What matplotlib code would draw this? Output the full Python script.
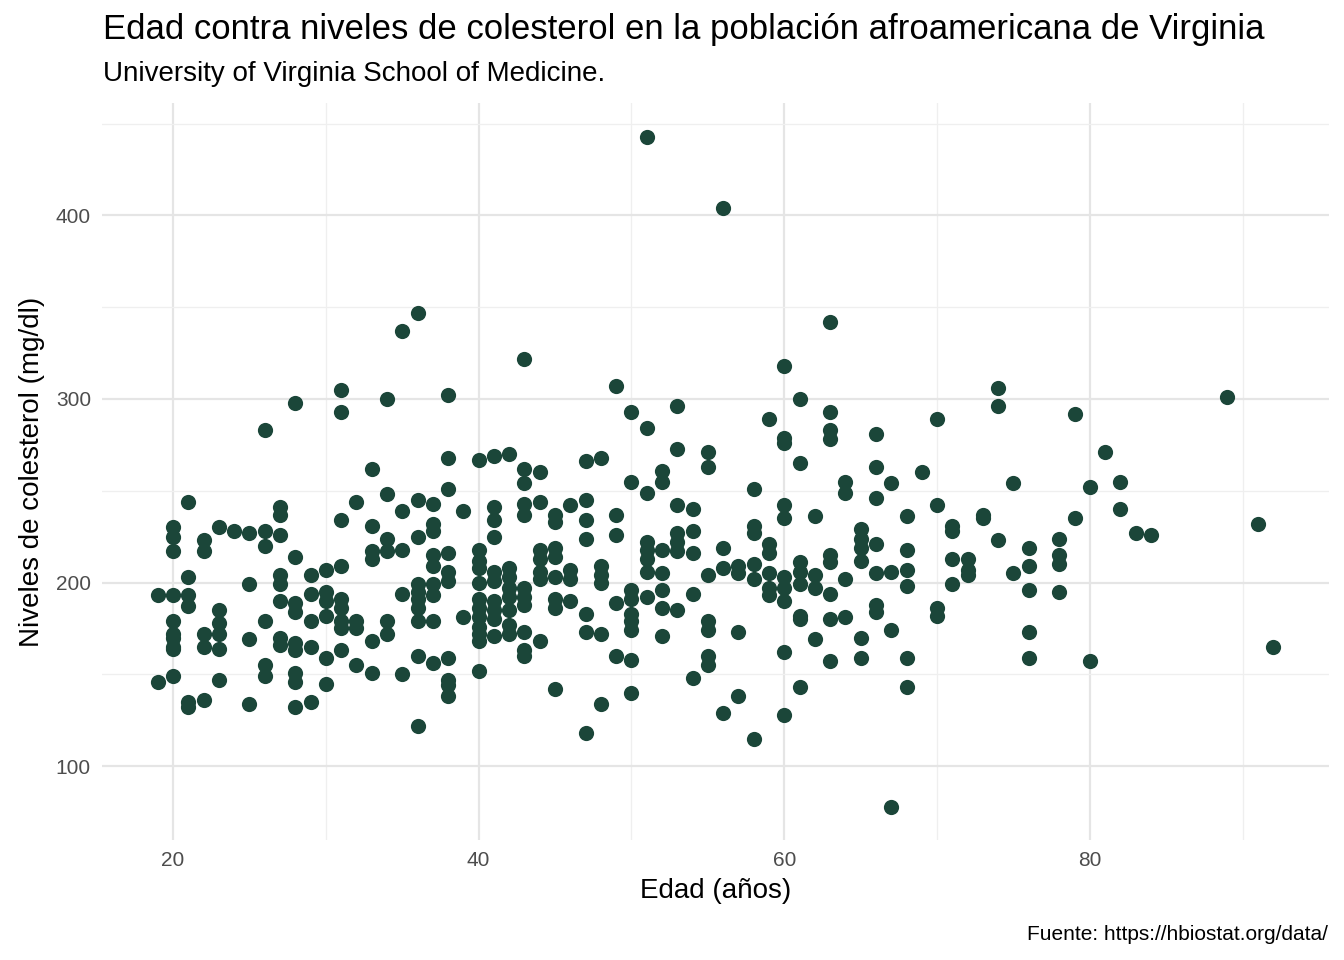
import matplotlib.pyplot as plt
import numpy as np

# Ages (years) and cholesterol readings (mg/dl)
edad_grupos = [19, 20, 21, 22, 23, 24, 25, 26, 27, 28, 29, 30, 31, 32, 33, 34, 35, 36, 37, 38,
               39, 40, 41, 42, 43, 44, 45, 46, 47, 48, 49, 50, 51, 52, 53, 54, 55, 56, 57, 58,
               59, 60, 61, 62, 63, 64, 65, 66, 67, 68, 69, 70, 71, 72, 73, 74, 75, 76, 78, 79,
               80, 81, 82, 83, 84, 89, 91, 92]
colesterol_grupos = [
    [193, 146],
    [230, 225, 217, 193, 179, 172, 165, 149, 164, 170],
    [244, 203, 193, 187, 135, 132],
    [223, 217, 172, 165, 136],
    [230, 185, 178, 172, 164, 147],
    [228],
    [227, 199, 169, 134],
    [283, 228, 220, 179, 155, 149],
    [241, 237, 226, 204, 199, 190, 170, 166],
    [298, 214, 189, 184, 167, 163, 151, 146, 132],
    [204, 194, 179, 165, 135],
    [207, 195, 190, 182, 159, 145],
    [305, 293, 234, 209, 191, 186, 179, 175, 163],
    [244, 179, 175, 155],
    [262, 231, 217, 213, 168, 151],
    [300, 248, 224, 217, 179, 172],
    [337, 239, 218, 194, 150],
    [347, 245, 225, 199, 195, 191, 186, 179, 160, 122],
    [243, 232, 228, 215, 209, 199, 193, 179, 156],
    [302, 268, 251, 216, 206, 201, 159, 147, 144, 138],
    [239, 181],
    [267, 218, 212, 208, 200, 191, 186, 181, 176, 172, 168, 152],
    [269, 241, 234, 225, 206, 201, 190, 185, 180, 171],
    [270, 208, 203, 197, 192, 185, 177, 172],
    [322, 262, 254, 243, 237, 197, 192, 188, 173, 163, 160],
    [260, 244, 218, 213, 206, 202, 168],
    [237, 233, 219, 214, 203, 191, 186, 142],
    [242, 207, 202, 190],
    [266, 245, 234, 224, 183, 173, 118],
    [268, 209, 204, 200, 172, 134],
    [307, 237, 226, 189, 160],
    [293, 255, 196, 191, 183, 179, 174, 158, 140],
    [443, 284, 249, 222, 218, 213, 206, 192],
    [261, 255, 218, 205, 196, 186, 171],
    [296, 273, 242, 227, 222, 217, 185],
    [240, 228, 216, 194, 148],
    [271, 263, 204, 179, 174, 160, 155],
    [404, 219, 208, 129],
    [209, 205, 173, 138],
    [251, 231, 227, 210, 202, 115],
    [289, 221, 216, 205, 197, 193],
    [318, 279, 276, 242, 235, 203, 197, 190, 162, 128],
    [300, 265, 211, 206, 199, 182, 180, 143],
    [236, 204, 197, 169],
    [342, 293, 283, 278, 215, 211, 194, 180, 157],
    [255, 249, 202, 181],
    [229, 224, 219, 212, 170, 159],
    [281, 263, 246, 221, 205, 188, 184],
    [254, 206, 174, 78],
    [236, 218, 207, 198, 159, 143],
    [260],
    [289, 242, 186, 182],
    [231, 228, 213, 199],
    [213, 207, 204],
    [237, 235],
    [306, 296, 223],
    [254, 205],
    [219, 209, 196, 173, 159],
    [224, 215, 210, 195],
    [292, 235],
    [252, 157],
    [271],
    [255, 240],
    [227],
    [226],
    [301],
    [232],
    [165],
]

edad = np.concatenate([[a] * len(v) for a, v in zip(edad_grupos, colesterol_grupos)])
colesterol = np.concatenate(colesterol_grupos)

plt.rcParams["font.family"] = ["Liberation Sans", "DejaVu Sans"]
fig = plt.figure(figsize=(13.44, 9.6), dpi=100)
ax = fig.add_axes([102 / 1344, 1 - 840 / 960, (1329 - 102) / 1344, (840 - 103) / 960])

ax.scatter(edad, colesterol, s=120, color="#1b4639", zorder=3, linewidths=0)

ax.set_xlim(15.35, 95.65)
ax.set_ylim(59.75, 461.25)
ax.set_xticks([20, 40, 60, 80])
ax.set_yticks([100, 200, 300, 400])
ax.set_xticks([30, 50, 70, 90], minor=True)
ax.set_yticks([150, 250, 350, 450], minor=True)
ax.grid(True, which="major", color="#e5e5e5", linewidth=1.6)
ax.grid(True, which="minor", color="#efefef", linewidth=0.9)
for s in ax.spines.values():
    s.set_visible(False)
ax.tick_params(which="both", length=0, labelsize=15, colors="#4d4d4d", pad=8)

ax.set_xlabel("Edad (años)", fontsize=20, labelpad=6)
ax.set_ylabel("Niveles de colesterol (mg/dl)", fontsize=20, labelpad=8)

fig.text(103 / 1344, 1 - 30 / 960, "Edad contra niveles de colesterol en la población afroamericana de Virginia",
         fontsize=25, va="center", ha="left")
fig.text(103 / 1344, 1 - 74 / 960, "University of Virginia School of Medicine.",
         fontsize=20, va="center", ha="left")
fig.text(1328 / 1344, 1 - 935 / 960, "Fuente: https://hbiostat.org/data/",
         fontsize=15, va="center", ha="right")

fig.savefig("out.png", dpi=100, facecolor="white")
